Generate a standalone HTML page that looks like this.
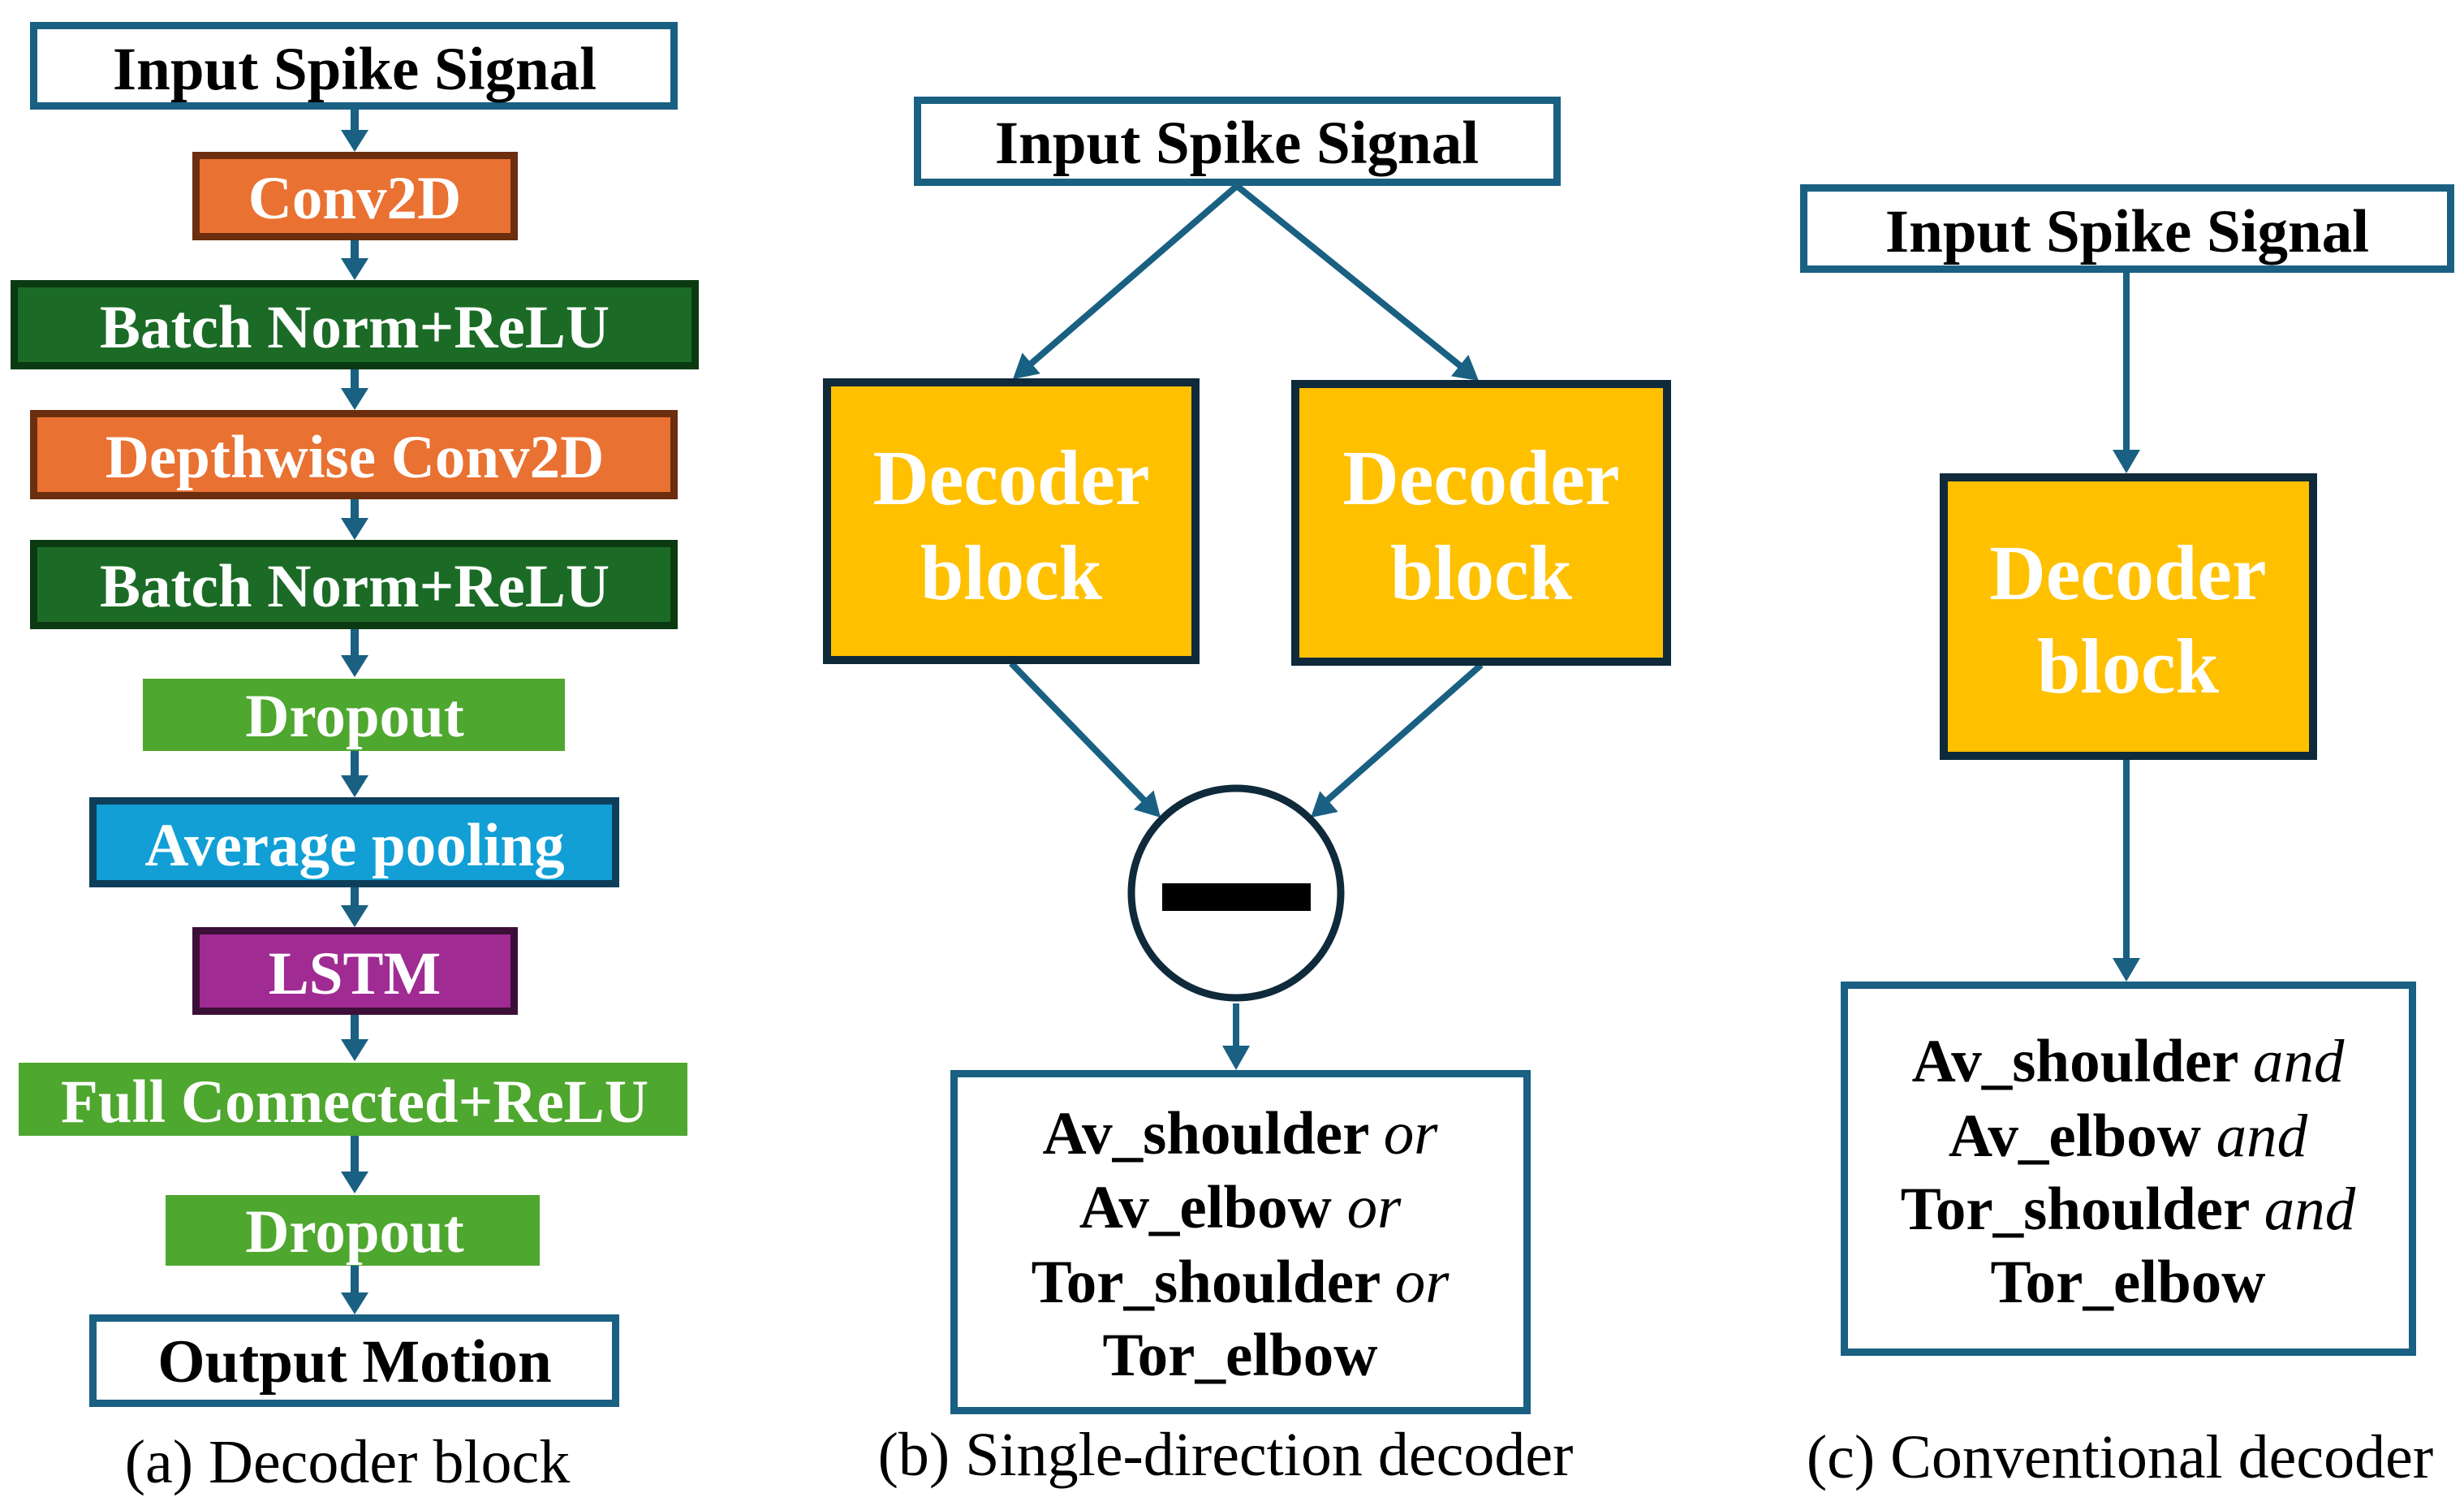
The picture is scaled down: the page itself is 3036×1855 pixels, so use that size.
<!DOCTYPE html>
<html><head><meta charset="utf-8"><style>
html,body{margin:0;padding:0;background:#fff;}
svg{display:block;}
text{font-family:"Liberation Serif","Times New Roman",serif;}
.b{font-weight:bold;font-size:75px;text-anchor:middle;}
.w{fill:#fff;}
.k{fill:#000;}
.cap{font-size:76px;text-anchor:middle;fill:#000;}
.i{font-style:italic;font-weight:normal;}
.dec{font-weight:bold;font-size:96px;text-anchor:middle;fill:#fff;}
</style></head><body>
<svg width="3036" height="1855" viewBox="0 0 3036 1855" xmlns="http://www.w3.org/2000/svg">
<g fill="#196082" stroke="none">
<!-- panel a arrows -->
<rect x="432" y="135" width="10" height="28"/><polygon points="420,160 454,160 437,187"/>
<rect x="432" y="296" width="10" height="26"/><polygon points="420,318 454,318 437,345"/>
<rect x="432" y="455" width="10" height="27"/><polygon points="420,478 454,478 437,505"/>
<rect x="432" y="615" width="10" height="27"/><polygon points="420,638 454,638 437,665"/>
<rect x="432" y="775" width="10" height="36"/><polygon points="420,807 454,807 437,834"/>
<rect x="432" y="924" width="10" height="35"/><polygon points="420,955 454,955 437,982"/>
<rect x="432" y="1093" width="10" height="26"/><polygon points="420,1115 454,1115 437,1142"/>
<rect x="432" y="1250" width="10" height="34"/><polygon points="420,1280 454,1280 437,1307"/>
<rect x="432" y="1399" width="10" height="48"/><polygon points="420,1443 454,1443 437,1470"/>
<rect x="432" y="1558" width="10" height="38"/><polygon points="420,1592 454,1592 437,1619"/>
</g>
<!-- panel a boxes -->
<rect x="41.5" y="31.5" width="789" height="99" fill="#fff" stroke="#196082" stroke-width="9"/>
<text class="b k" x="437" y="110">Input Spike Signal</text>
<rect x="241.5" y="191.5" width="392" height="100" fill="#E97132" stroke="#6B2E0F" stroke-width="9"/>
<text class="b w" x="437" y="269">Conv2D</text>
<rect x="17.5" y="349.5" width="839" height="101" fill="#1B6B26" stroke="#0B3A12" stroke-width="9"/>
<text class="b w" x="437" y="428">Batch Norm+ReLU</text>
<rect x="41.5" y="509.5" width="789" height="101" fill="#E97132" stroke="#6B2E0F" stroke-width="9"/>
<text class="b w" x="437" y="588">Depthwise Conv2D</text>
<rect x="41.5" y="669.5" width="789" height="101" fill="#1B6B26" stroke="#0B3A12" stroke-width="9"/>
<text class="b w" x="437" y="747">Batch Norm+ReLU</text>
<rect x="176" y="836" width="520" height="89" fill="#4EA72E"/>
<text class="b w" x="437" y="907">Dropout</text>
<rect x="114.5" y="986.5" width="644" height="102" fill="#119FD6" stroke="#0E3F5A" stroke-width="9"/>
<text class="b w" x="437" y="1066">Average pooling</text>
<rect x="241.5" y="1146.5" width="392" height="99" fill="#A02B93" stroke="#3B0F38" stroke-width="9"/>
<text class="b w" x="437" y="1224">LSTM</text>
<rect x="23" y="1309" width="824" height="90" fill="#4EA72E"/>
<text class="b w" x="437" y="1382">Full Connected+ReLU</text>
<rect x="204" y="1472" width="461" height="87" fill="#4EA72E"/>
<text class="b w" x="437" y="1542">Dropout</text>
<rect x="114.5" y="1623.5" width="644" height="105" fill="#fff" stroke="#196082" stroke-width="9"/>
<text class="b k" x="437" y="1702">Output Motion</text>
<text class="cap" x="428" y="1826">(a) Decoder block</text>

<!-- panel b -->
<g stroke="#196082" stroke-width="8" fill="none">
<line x1="1524" y1="229" x2="1268" y2="450"/>
<line x1="1524" y1="229" x2="1801" y2="452"/>
<line x1="1246" y1="817" x2="1412" y2="988"/>
<line x1="1825" y1="819" x2="1635" y2="986"/>
<line x1="1523" y1="1236" x2="1523" y2="1292"/>
</g>
<g fill="#196082">
<polygon points="1248,467 1259.6,434.5 1281.8,460.3"/>
<polygon points="1822,469 1788,463.4 1809.3,437"/>
<polygon points="1430,1007 1396.9,997.1 1421.5,973.5"/>
<polygon points="1615,1007 1626.3,974.4 1648.7,1000"/>
<polygon points="1506,1288 1540,1288 1523,1318"/>
</g>
<rect x="1130.5" y="123.5" width="788" height="101" fill="#fff" stroke="#196082" stroke-width="9"/>
<text class="b k" x="1524" y="201">Input Spike Signal</text>
<rect x="1019" y="471" width="454" height="342" fill="#FFC000" stroke="#0F2A3A" stroke-width="10"/>
<text class="dec" x="1246" y="621">Decoder</text>
<text class="dec" x="1246" y="738">block</text>
<rect x="1596" y="473" width="458" height="342" fill="#FFC000" stroke="#0F2A3A" stroke-width="10"/>
<text class="dec" x="1825" y="621">Decoder</text>
<text class="dec" x="1825" y="738">block</text>
<circle cx="1523" cy="1100" r="129" fill="#fff" stroke="#0F2A3A" stroke-width="9"/>
<rect x="1432" y="1088" width="183" height="34" fill="#000"/>
<rect x="1175.5" y="1322.5" width="706" height="415" fill="#fff" stroke="#196082" stroke-width="9"/>
<text class="b k" x="1528" y="1421">Av_shoulder <tspan class="i">or</tspan></text>
<text class="b k" x="1528" y="1512">Av_elbow <tspan class="i">or</tspan></text>
<text class="b k" x="1528" y="1604">Tor_shoulder <tspan class="i">or</tspan></text>
<text class="b k" x="1528" y="1694">Tor_elbow</text>
<text class="cap" x="1510" y="1817">(b) Single-direction decoder</text>

<!-- panel c -->
<g fill="#196082">
<rect x="2616" y="333" width="8" height="225"/><polygon points="2603,554 2637,554 2620,583"/>
<rect x="2616" y="931" width="8" height="253"/><polygon points="2603,1180 2637,1180 2620,1209"/>
</g>
<rect x="2222.5" y="231.5" width="797" height="100" fill="#fff" stroke="#196082" stroke-width="9"/>
<text class="b k" x="2621" y="310">Input Spike Signal</text>
<rect x="2395" y="588" width="455" height="343" fill="#FFC000" stroke="#0F2A3A" stroke-width="10"/>
<text class="dec" x="2622" y="738">Decoder</text>
<text class="dec" x="2622" y="853">block</text>
<rect x="2272.5" y="1213.5" width="700" height="452" fill="#fff" stroke="#196082" stroke-width="9"/>
<text class="b k" x="2622" y="1332">Av_shoulder <tspan class="i">and</tspan></text>
<text class="b k" x="2622" y="1424">Av_elbow <tspan class="i">and</tspan></text>
<text class="b k" x="2622" y="1514">Tor_shoulder <tspan class="i">and</tspan></text>
<text class="b k" x="2622" y="1604">Tor_elbow</text>
<text class="cap" x="2612" y="1820">(c) Conventional decoder</text>
</svg>
</body></html>
